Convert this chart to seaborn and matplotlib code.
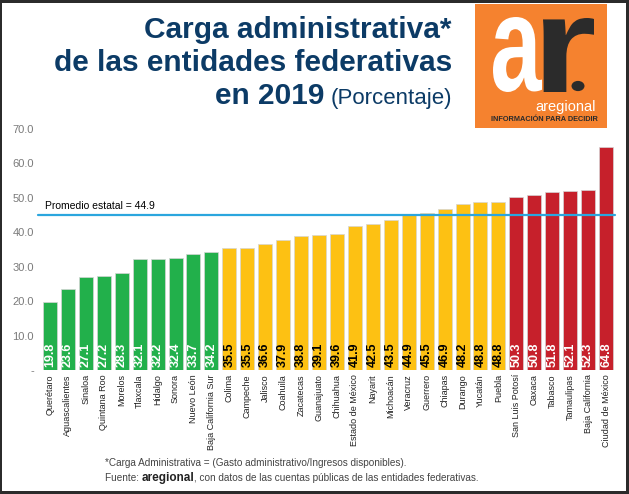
import pandas as pd
import matplotlib.pyplot as plt
import seaborn as sns
from matplotlib.patches import Rectangle, Circle, PathPatch
from matplotlib.textpath import TextPath
from matplotlib.font_manager import FontProperties
from matplotlib.transforms import Affine2D

# data
estados = ['Querétaro', 'Aguascalientes', 'Sinaloa', 'Quintana Roo', 'Morelos', 'Tlaxcala',
           'Hidalgo', 'Sonora', 'Nuevo León', 'Baja California Sur', 'Colima', 'Campeche',
           'Jalisco', 'Coahuila', 'Zacatecas', 'Guanajuato', 'Chihuahua', 'Estado de México',
           'Nayarit', 'Michoacán', 'Veracruz', 'Guerrero', 'Chiapas', 'Durango', 'Yucatán',
           'Puebla', 'San Luis Potosí', 'Oaxaca', 'Tabasco', 'Tamaulipas', 'Baja California',
           'Ciudad de México']
carga = [19.8, 23.6, 27.1, 27.2, 28.3, 32.1, 32.2, 32.4, 33.7, 34.2, 35.5, 35.5,
         36.6, 37.9, 38.8, 39.1, 39.6, 41.9, 42.5, 43.5, 44.9, 45.5, 46.9, 48.2, 48.8,
         48.8, 50.3, 50.8, 51.8, 52.1, 52.3, 64.8]
grupo = ['bajo'] * 10 + ['medio'] * 16 + ['alto'] * 6
promedio = 44.9
y_ticks = [0, 10, 20, 30, 40, 50, 60, 70]
y_labels = ['-', '10.0', '20.0', '30.0', '40.0', '50.0', '60.0', '70.0']

colores = {'bajo': '#22b04b', 'medio': '#fdc113', 'alto': '#c6202b'}
color_texto = {'bajo': 'white', 'medio': 'black', 'alto': 'white'}

df = pd.DataFrame({'estado': estados, 'carga': carga, 'grupo': grupo})

sns.set_style('white')
plt.rcParams['font.family'] = ['Liberation Sans', 'DejaVu Sans']

W, H = 629, 494
fig = plt.figure(figsize=(W / 100, H / 100), dpi=100)
fig.patch.set_facecolor('#2b2b2b')
# white card inside the dark frame
fig.patches.append(Rectangle((2 / W, 3 / H), 624 / W, 488 / H, transform=fig.transFigure,
                             facecolor='white', edgecolor='none', zorder=-5))

ax = fig.add_axes([41 / W, (H - 370) / H, 574 / W, 241 / H])
ax.set_facecolor('none')
sns.barplot(data=df, x='estado', y='carga', hue='grupo', palette=colores, dodge=False,
            saturation=1, width=0.78, legend=False, edgecolor='#d5d5d5', linewidth=0.5, ax=ax)

ax.set_ylim(0, 70)
ax.set_xlim(-0.5, len(estados) - 0.5)
ax.set_yticks(y_ticks)
ax.set_yticklabels(y_labels, fontsize=8, color='#7a7a7a')
ax.tick_params(axis='x', labelrotation=90, labelsize=6.5, colors='#222222', length=0, pad=3)
ax.tick_params(axis='y', length=0, pad=5)
ax.set_xlabel('')
ax.set_ylabel('')
sns.despine(ax=ax, left=True, bottom=True)

# value labels at the base of each bar
for p in ax.patches:
    h = p.get_height()
    if not h or h != h:
        continue
    xc = p.get_x() + p.get_width() / 2
    g = grupo[int(round(xc))]
    ax.text(xc, 1.0, f'{h:.1f}', rotation=90, ha='center', va='bottom', fontsize=9,
            fontweight='bold', color=color_texto[g])

# state average
ax.axhline(promedio, color='#2ba6de', lw=1.6, xmin=-0.005, xmax=1.0, clip_on=False, zorder=3)
ax.text(-0.28, promedio + 1.4, f'Promedio estatal = {promedio}', fontsize=7.5,
        color='black', ha='left', va='bottom')

# title
navy = '#0c3b66'
fig.text(452 / W, 1 - 38 / H, 'Carga administrativa*', ha='right', va='baseline',
         fontsize=21.5, fontweight='bold', color=navy)
fig.text(452 / W, 1 - 71 / H, 'de las entidades federativas', ha='right', va='baseline',
         fontsize=21.5, fontweight='bold', color=navy)
t_pct = fig.text(452 / W, 1 - 104 / H, '(Porcentaje)', ha='right', va='baseline',
                 fontsize=16, color=navy)
r = fig.canvas.get_renderer()
x0 = t_pct.get_window_extent(r).x0
fig.text((x0 - 6) / W, 1 - 104 / H, 'en 2019', ha='right', va='baseline',
         fontsize=21.5, fontweight='bold', color=navy)


# logo
def glyph(ch, left, top, right, bottom, color):
    # letter path squeezed into a pixel box (top-left origin)
    tp = TextPath((0, 0), ch, size=1, prop=FontProperties(family='Liberation Sans', weight='bold'))
    e = tp.get_extents()
    tr = (Affine2D().translate(-e.x0, -e.y0)
          .scale((right - left) / e.width / W, (bottom - top) / e.height / H)
          .translate(left / W, 1 - bottom / H) + fig.transFigure)
    fig.patches.append(PathPatch(tp, transform=tr, facecolor=color, edgecolor='none', zorder=2))


fig.patches.append(Rectangle((475 / W, 1 - 128 / H), 132 / W, 124 / H, transform=fig.transFigure,
                             facecolor='#f5822f', edgecolor='none', zorder=1))
glyph('a', 493, 17, 542, 92, 'white')
glyph('r', 543, 18, 594, 92, '#2b2b2b')
fig.patches.append(Circle((578 / W, 1 - 86 / H), 6.5 / W, transform=fig.transFigure,
                          facecolor='#2b2b2b', edgecolor='none', zorder=2))
narrow = ['Liberation Sans Narrow', 'Liberation Sans']
fig.text(596 / W, 1 - 111 / H, 'aregional', ha='right', va='baseline', fontsize=10.5,
         family=narrow, color='white', zorder=2)
fig.text(544 / W, 1 - 121 / H, 'INFORMACIÓN PARA DECIDIR', ha='center', va='baseline',
         fontsize=5.3, fontweight='bold', family=narrow, color='#2b2b2b', zorder=2)

# footnotes
fig.text(105 / W, 1 - 466 / H,
         '*Carga Administrativa = (Gasto administrativo/Ingresos disponibles).',
         ha='left', va='baseline', fontsize=7.2, color='#444444')
t1 = fig.text(105 / W, 1 - 481 / H, 'Fuente: ', ha='left', va='baseline', fontsize=7.2,
              color='#444444')
x1 = t1.get_window_extent(r).x1
t2 = fig.text(x1 / W, 1 - 481 / H, 'aregional', ha='left', va='baseline', fontsize=8.5,
              fontweight='bold', color='#222222')
x2 = t2.get_window_extent(r).x1
fig.text(x2 / W, 1 - 481 / H, ', con datos de las cuentas públicas de las entidades federativas.',
         ha='left', va='baseline', fontsize=7.2, color='#444444')

fig.savefig('out.png', dpi=100, facecolor=fig.get_facecolor())
